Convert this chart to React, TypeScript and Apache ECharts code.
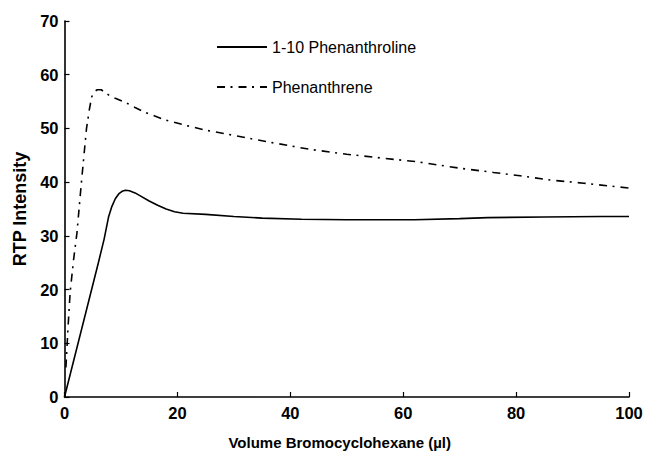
import React, { useEffect, useRef } from "react";
import * as echarts from "echarts";

const FONT = '"Liberation Sans", Arial, Helvetica, sans-serif';

const seriesNames = ["1-10 Phenanthroline", "Phenanthrene"];

const phenanthrolineX = [0, 6, 7, 7.8, 8.4, 9, 9.6, 10.2, 10.8, 11.5, 12.5, 13.5, 15, 16.5, 18, 19.5, 21, 25, 30, 35, 42, 50, 62, 70, 75, 85, 95, 100];
const phenanthrolineY = [0, 25, 29.3, 33.5, 35.5, 36.9, 37.8, 38.3, 38.5, 38.4, 38.0, 37.4, 36.5, 35.7, 35.0, 34.5, 34.2, 34.0, 33.6, 33.3, 33.1, 33.0, 33.0, 33.2, 33.4, 33.5, 33.6, 33.6];

const phenanthreneX = [0.25, 0.6, 1.0, 1.6, 2.2, 3.0, 3.9, 4.4, 4.8, 5.2, 5.8, 6.5, 7.2, 8, 9, 10.7, 12.5, 14, 16, 17.8, 21, 24.9, 30, 36, 43.5, 50, 56, 62.4, 70, 76, 80.7, 86, 92, 100];
const phenanthreneY = [5.5, 12.5, 19.5, 25.5, 30.5, 40, 50, 53.5, 55.8, 56.8, 57.2, 57.2, 56.7, 56.1, 55.6, 54.9, 53.9, 53.1, 52.3, 51.6, 50.7, 49.7, 48.7, 47.5, 46.1, 45.2, 44.5, 43.8, 42.6, 41.8, 41.2, 40.4, 39.8, 38.9];

const xAxisTitle = "Volume Bromocyclohexane (µl)";
const yAxisTitle = "RTP Intensity";

const zip = (xs: number[], ys: number[]) => xs.map((x, i) => [x, ys[i]]);

export default function App() {
  const ref = useRef<HTMLDivElement>(null);
  useEffect(() => {
    if (!ref.current) return;
    const chart = echarts.init(ref.current, null, { renderer: "svg" });
    chart.setOption({
      animation: false,
      backgroundColor: "#ffffff",
      grid: { left: 64.5, right: 20, top: 21, bottom: 52.3, containLabel: false },
      legend: {
        data: seriesNames,
        orient: "vertical",
        left: 211,
        top: 34,
        itemWidth: 50,
        itemHeight: 16,
        itemGap: 24,
        itemStyle: { opacity: 0 },
        textStyle: { fontSize: 16, fontFamily: FONT, color: "#000", lineHeight: 16 },
      },
      xAxis: {
        type: "value",
        min: 0,
        max: 100,
        interval: 20,
        name: xAxisTitle,
        nameLocation: "middle",
        nameGap: 38,
        nameTextStyle: { fontSize: 15, fontWeight: "bold", fontFamily: FONT, color: "#000", padding: [0, 14, 0, 0] },
        axisLine: { show: true, lineStyle: { color: "#000", width: 1.6 } },
        axisTick: { show: true, inside: true, length: 5, lineStyle: { color: "#000", width: 1.2 } },
        axisLabel: { fontSize: 16.5, fontWeight: "bold", fontFamily: FONT, color: "#000", margin: 7 },
        splitLine: { show: false },
      },
      yAxis: {
        type: "value",
        min: 0,
        max: 70,
        interval: 10,
        name: yAxisTitle,
        nameLocation: "middle",
        nameGap: 31.5,
        nameTextStyle: { fontSize: 18, fontWeight: "bold", fontFamily: FONT, color: "#000" },
        axisLine: { show: true, lineStyle: { color: "#000", width: 1.6 } },
        axisTick: { show: true, inside: true, length: 5, lineStyle: { color: "#000", width: 1.2 } },
        axisLabel: { fontSize: 16.5, fontWeight: "bold", fontFamily: FONT, color: "#000", margin: 6 },
        splitLine: { show: false },
      },
      series: [
        {
          name: seriesNames[0],
          type: "line",
          data: zip(phenanthrolineX, phenanthrolineY),
          symbol: "none",
          smooth: false,
          lineStyle: { color: "#000", width: 1.6, type: "solid" },
          itemStyle: { color: "#000" },
        },
        {
          name: seriesNames[1],
          type: "line",
          data: zip(phenanthreneX, phenanthreneY),
          symbol: "none",
          smooth: false,
          lineStyle: { color: "#000", width: 1.6, type: [8, 5.5, 2, 6] },
          itemStyle: { color: "#000" },
        },
      ],
    });
    return () => chart.dispose();
  }, []);
  return <div ref={ref} style={{ width: 649, height: 455, position: "absolute", left: 0, top: 0 }} />;
}
